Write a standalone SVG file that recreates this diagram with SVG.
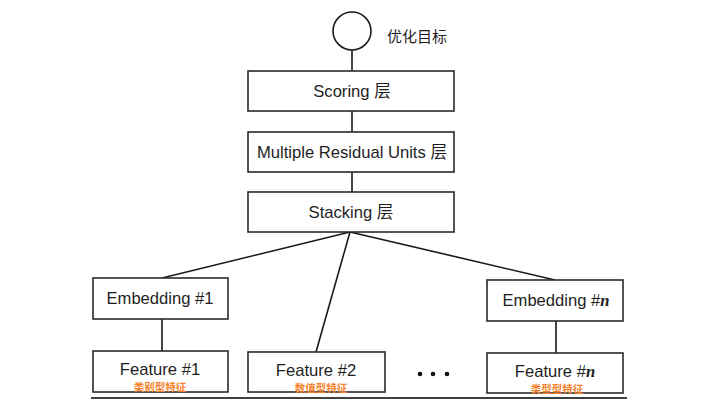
<svg xmlns="http://www.w3.org/2000/svg" width="718" height="411" viewBox="0 0 718 411">
<style>
.box{fill:#fff;stroke:#2a2a2a;stroke-width:1.6}
.t{font-family:"Liberation Sans","Noto Sans CJK SC",sans-serif;font-size:16.6px;fill:#1e1e1e;text-anchor:middle}
.n{font-family:"Liberation Serif",serif;font-style:italic;font-weight:bold}
.lab{font-family:"Noto Sans CJK SC",sans-serif;font-size:10.5px;font-weight:bold;fill:#f5822a;text-anchor:middle}
.c{stroke:#1a1a1a;stroke-width:1.6;fill:none}
</style>
<rect width="718" height="411" fill="#fff"/>
<g id="connectors">
<line class="c" x1="352" y1="50" x2="352" y2="71"/>
<line class="c" x1="352" y1="111" x2="352" y2="132"/>
<line class="c" x1="352" y1="172" x2="352" y2="192"/>
<line class="c" x1="350" y1="232" x2="162" y2="278"/>
<line class="c" x1="350" y1="232" x2="316" y2="352"/>
<line class="c" x1="350" y1="232" x2="555" y2="280"/>
<line class="c" x1="162" y1="319" x2="162" y2="351"/>
<line class="c" x1="556" y1="321" x2="556" y2="353"/>
</g>
<g id="objective">
<circle cx="352" cy="31" r="19" fill="#fff" stroke="#1a1a1a" stroke-width="1.6"/>
<text x="387" y="42" font-family="Noto Sans CJK SC,sans-serif" font-size="15" fill="#1e1e1e">优化目标</text>
</g>
<g id="scoring">
<rect class="box" x="248" y="71" width="206" height="40"/>
<text class="t" x="352" y="97">Scoring 层</text>
</g>
<g id="residual">
<rect class="box" x="248" y="132" width="206" height="40"/>
<text class="t" x="352" y="158">Multiple Residual Units 层</text>
</g>
<g id="stacking">
<rect class="box" x="248" y="192" width="206" height="40"/>
<text class="t" x="351" y="218">Stacking 层</text>
</g>
<g id="embedding1">
<rect class="box" x="93" y="278" width="135" height="41"/>
<text class="t" x="160" y="304">Embedding #1</text>
</g>
<g id="embeddingn">
<rect class="box" x="487" y="280" width="136" height="41"/>
<text class="t" x="556" y="306">Embedding #<tspan class="n">n</tspan></text>
</g>
<g id="feature1">
<rect class="box" x="93" y="351" width="135" height="41"/>
<text class="t" x="160" y="375">Feature #1</text>
<text class="lab" x="160" y="391">类别型特征</text>
</g>
<g id="feature2">
<rect class="box" x="248" y="352" width="137" height="40"/>
<text class="t" x="316" y="376">Feature #2</text>
<text class="lab" x="321" y="392">数值型特征</text>
</g>
<g id="dots" fill="#111">
<circle cx="420" cy="374" r="2.3"/>
<circle cx="433" cy="374" r="2.3"/>
<circle cx="447" cy="374" r="2.3"/>
</g>
<g id="featuren">
<rect class="box" x="487" y="353" width="136" height="40"/>
<text class="t" x="555" y="377">Feature #<tspan class="n">n</tspan></text>
<text class="lab" x="557" y="393">类型型特征</text>
</g>
<line x1="91" y1="398" x2="627" y2="398" stroke="#000" stroke-width="1.6"/>
</svg>
